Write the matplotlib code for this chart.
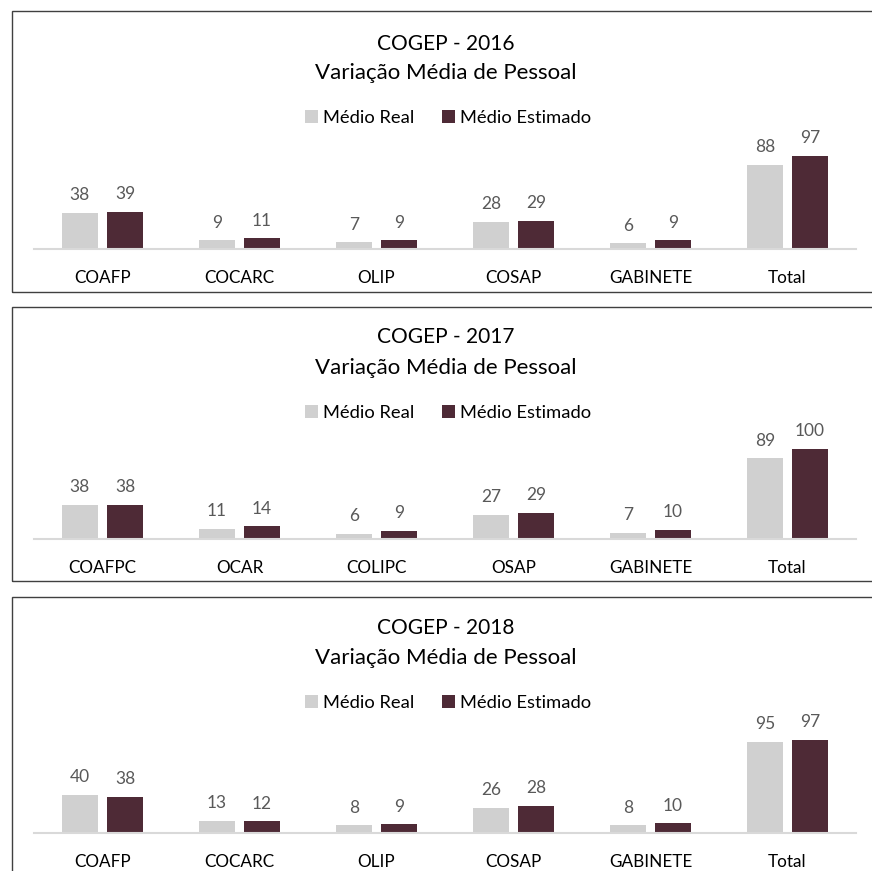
import matplotlib
matplotlib.use("Agg")
from matplotlib import pyplot as plt
from matplotlib.patches import Rectangle

plt.rcParams['font.family'] = ['Lato', 'DejaVu Sans']

years = ['2016', '2017', '2018']
cats_2016 = ['COAFP', 'COCARC', 'OLIP', 'COSAP', 'GABINETE', 'Total']
real_2016 = [38, 9, 7, 28, 6, 88]
est_2016 = [39, 11, 9, 29, 9, 97]
cats_2017 = ['COAFPC', 'OCAR', 'COLIPC', 'OSAP', 'GABINETE', 'Total']
real_2017 = [38, 11, 6, 27, 7, 89]
est_2017 = [38, 14, 9, 29, 10, 100]
cats_2018 = ['COAFP', 'COCARC', 'OLIP', 'COSAP', 'GABINETE', 'Total']
real_2018 = [40, 13, 8, 26, 8, 95]
est_2018 = [38, 12, 9, 28, 10, 97]

GRAY = '#D0D0D0'
WINE = '#4E2A36'
W, H = 872, 871

fig = plt.figure(figsize=(W / 100, H / 100), dpi=100)


def fx(x):
    return x / W


def fy(y):
    return 1 - y / H


# panel layout in pixels: box top, box bottom, title1 y, title2 y, legend y, baseline y, px per unit
panels = [
    (cats_2016, real_2016, est_2016, 11, 292, 44, 73, 118, 249, 0.96),
    (cats_2017, real_2017, est_2017, 307, 581, 337, 368, 413, 539, 0.905),
    (cats_2018, real_2018, est_2018, 597, 900, 628, 658, 703, 833, 0.96),
]

for yr, (cats, real, est, btop, bbot, t1, t2, ly, base, scale) in zip(years, panels):
    fig.patches.append(Rectangle((fx(12), fy(bbot)), fx(880 - 12), (bbot - btop) / H,
                                 transform=fig.transFigure, fill=False,
                                 edgecolor='#404040', linewidth=1.0))
    ax_h = 110
    ax = fig.add_axes([fx(34), fy(base), fx(856 - 34), ax_h / H])
    x = range(len(cats))
    b1 = ax.bar([i - 0.165 for i in x], real, width=0.265, color=GRAY, label='Médio Real')
    b2 = ax.bar([i + 0.165 for i in x], est, width=0.265, color=WINE, label='Médio Estimado')
    ax.set_xlim(-0.5, len(cats) - 0.5)
    ax.set_ylim(0, ax_h / scale)
    for bars in (b1, b2):
        ax.bar_label(bars, padding=7, fontsize=12.5, color='#595959')
    ax.set_xticks(list(x))
    ax.set_xticklabels(cats, fontsize=12.3, color='#000000')
    ax.tick_params(axis='x', length=0, pad=15)
    ax.set_yticks([])
    for s in ('top', 'left', 'right'):
        ax.spines[s].set_visible(False)
    ax.spines['bottom'].set_color('#D9D9D9')
    ax.spines['bottom'].set_linewidth(1.5)
    ax.patch.set_alpha(0)

    fig.text(fx(446), fy(t1), f'COGEP - {yr}', ha='center', va='center', fontsize=15)
    fig.text(fx(446), fy(t2), 'Variação Média de Pessoal', ha='center', va='center', fontsize=16)
    fig.legend(handles=[b1, b2], loc='center', bbox_to_anchor=(fx(448), fy(ly)), ncol=2,
               frameon=False, fontsize=13.2, handlelength=0.7, handleheight=0.7,
               handletextpad=0.3, columnspacing=1.5)

fig.savefig('out.png', dpi=100, facecolor='white')
